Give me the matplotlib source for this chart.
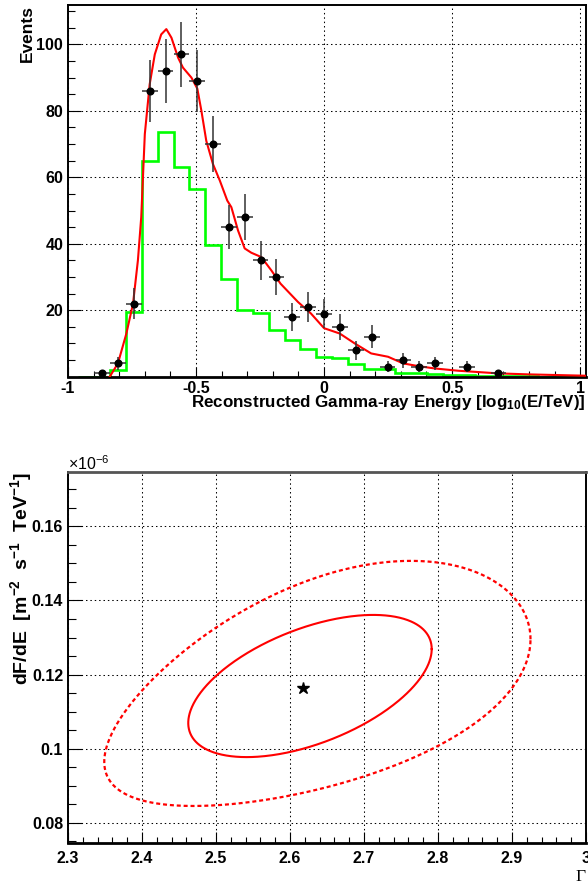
import numpy as np
import matplotlib
matplotlib.use("Agg")
import matplotlib.pyplot as plt
from matplotlib.ticker import MultipleLocator, FixedLocator, FuncFormatter

plt.rcParams['font.family'] = ['Liberation Sans', 'DejaVu Sans']
plt.rcParams['mathtext.fontset'] = 'custom'
plt.rcParams['mathtext.rm'] = 'Liberation Sans'
plt.rcParams['mathtext.bf'] = 'Liberation Sans:bold'
plt.rcParams['mathtext.it'] = 'Liberation Sans:italic'

# ---------------- energy distribution (upper panel) ----------------
bin_width = 0.0619
energy_centers = [-0.867, -0.805, -0.743, -0.681, -0.619, -0.557, -0.495, -0.433,
                  -0.371, -0.310, -0.248, -0.186, -0.124, -0.062, 0.000, 0.062,
                  0.124, 0.186, 0.248, 0.310, 0.371, 0.433, 0.557, 0.681]
event_counts = [1, 4, 22, 86, 92, 97, 89, 70,
                45, 48, 35, 30, 18, 21, 19, 15,
                8, 12, 3, 5, 3, 4, 3, 1]

# background-like histogram (same binning), first bin lower edge
hist_first_edge = -0.959
hist_counts = [0, 0, 2, 19.5, 65, 73.5, 63, 56.5, 39.5, 29.5, 20, 19.2, 14, 11, 8.3,
               5.8, 5.6, 3.8, 2.3, 2.3, 1.2, 1.2, 0.8, 0.6, 0.4, 0.3, 0.25, 0.15,
               0.1, 0.05, 0.05, 0.03]

# expected counts from the fitted model
model_logE = [-0.837, -0.805, -0.772, -0.746, -0.727, -0.714, -0.700, -0.681, -0.661,
              -0.636, -0.616, -0.596, -0.570, -0.551, -0.518, -0.495, -0.479, -0.460,
              -0.434, -0.407, -0.378, -0.362, -0.336, -0.310, -0.284, -0.245, -0.206,
              -0.170, -0.102, -0.051, 0.000, 0.061, 0.120, 0.184, 0.250, 0.309, 0.367,
              0.430, 0.523, 0.680, 0.797, 1.020]
model_events = [0, 4, 13, 22, 35, 48, 73, 88, 97,
                103, 104.6, 102, 96, 93, 90, 86.7, 80, 71,
                64, 59, 53, 51, 44, 38.6, 37.3, 36, 32,
                28, 22.5, 19, 14.6, 13, 10, 7, 6, 4, 3.2,
                2.5, 1.8, 1.0, 0.7, 0.3]

# ---------------- fit contours (lower panel), flux in 1e-6 units ----------------
best_index = 2.618
best_flux = 0.1163
# center x, center y, half-width, half-height, correlation (left side, right side)
contour_1sigma = dict(cx=2.627, cy=0.1169, a=0.1645, b=0.0192, rho_l=0.52, rho_r=0.52)
contour_2sigma = dict(cx=2.637, cy=0.1176, a=0.288, b=0.0331, rho_l=0.64, rho_r=0.36)

W, H = 588, 886
fig = plt.figure(figsize=(W / 100, H / 100), dpi=100)


def axes_px(left, top, right, bottom):
    return fig.add_axes([left / W, 1 - bottom / H, (right - left) / W, (bottom - top) / H])


def fmt(v, pos):
    return f"{v:g}"


grid_kw = dict(color='black', lw=0.75, linestyle=(0, (1.4, 2.8)))
TICK_SIZE = 11.5

# ---------- upper panel ----------
ax1 = axes_px(68, 4.5, 586, 376.7)
ax1.set_xlim(-1, 1.023)
ax1.set_ylim(0, 112)

edges = hist_first_edge + bin_width * np.arange(len(hist_counts) + 1)
ax1.stairs(hist_counts, edges, color='#00ff00', lw=1.9, zorder=2)
ax1.plot(model_logE, model_events, color='#ff0000', lw=1.5, zorder=3)
ax1.errorbar(energy_centers, event_counts, xerr=bin_width / 2,
             yerr=np.sqrt(event_counts), fmt='o', ms=4.8, mfc='black', mec='black',
             ecolor='#333333', elinewidth=1.1, capsize=0, zorder=4)

ax1.xaxis.set_major_locator(FixedLocator([-1, -0.5, 0, 0.5, 1]))
ax1.xaxis.set_minor_locator(MultipleLocator(0.1))
ax1.yaxis.set_major_locator(FixedLocator([20, 40, 60, 80, 100]))
ax1.yaxis.set_minor_locator(MultipleLocator(5))
ax1.xaxis.set_major_formatter(FuncFormatter(fmt))
ax1.yaxis.set_major_formatter(FuncFormatter(fmt))
ax1.tick_params(axis='x', which='major', direction='in', length=7.5, width=0.8, pad=3.0,
                top=False, labelsize=TICK_SIZE)
ax1.tick_params(axis='x', which='minor', direction='in', length=4, width=0.8, top=False)
ax1.tick_params(axis='y', which='major', direction='in', length=9.5, width=0.8, pad=3.5,
                right=False, labelsize=TICK_SIZE)
ax1.tick_params(axis='y', which='minor', direction='in', length=5, width=0.8, right=False)
for lab in ax1.get_xticklabels() + ax1.get_yticklabels():
    lab.set_fontweight('bold')
ax1.grid(True, which='major', **grid_kw)
for side in ['left', 'top', 'right']:
    ax1.spines[side].set_linewidth(1.4)
ax1.spines['bottom'].set_linewidth(2.0)

fig.text(27 / W, 1 - 5 / H, 'Events', rotation=90, ha='center', va='top',
         fontsize=12.5, fontweight='bold')
fig.text(586 / W, 1 - 407.3 / H, r'Reconstructed Gamma-ray Energy [log$_{\mathbf{10}}$(E/TeV)]',
         ha='right', va='baseline', fontsize=12.25, fontweight='bold')

# ---------- lower panel ----------
ax2 = axes_px(68, 472, 586, 843)
ax2.set_xlim(2.3, 3.0)
ax2.set_ylim(0.0745, 0.1747)


def contour_xy(c, n=600):
    t = np.linspace(0, 2 * np.pi, n)
    rho = 0.5 * (c['rho_l'] + c['rho_r']) + 0.5 * (c['rho_r'] - c['rho_l']) * np.cos(t)
    x = c['cx'] + c['a'] * np.cos(t)
    y = c['cy'] + c['b'] * (rho * np.cos(t) + np.sqrt(1 - rho ** 2) * np.sin(t))
    return x, y


x1, y1 = contour_xy(contour_1sigma)
x2, y2 = contour_xy(contour_2sigma)
ax2.plot(x1, y1, color='#ff0000', lw=1.5, zorder=3)
ax2.plot(x2, y2, color='#ff0000', lw=1.6, linestyle=(0, (1.8, 1.3)), zorder=3)
ax2.plot([best_index], [best_flux], marker='*', ms=9, color='black', mec='black',
         linestyle='none', zorder=4)

ax2.xaxis.set_major_locator(MultipleLocator(0.1))
ax2.xaxis.set_minor_locator(MultipleLocator(0.02))
ax2.yaxis.set_major_locator(FixedLocator([0.08, 0.10, 0.12, 0.14, 0.16]))
ax2.yaxis.set_minor_locator(MultipleLocator(0.005))
ax2.xaxis.set_major_formatter(FuncFormatter(fmt))
ax2.yaxis.set_major_formatter(FuncFormatter(fmt))
ax2.tick_params(axis='x', which='major', direction='in', length=7.7, width=0.8, pad=6,
                top=False, labelsize=TICK_SIZE)
ax2.tick_params(axis='x', which='minor', direction='in', length=4.3, width=0.8, top=False)
ax2.tick_params(axis='y', which='major', direction='in', length=10, width=0.8, pad=3.5,
                right=False, labelsize=TICK_SIZE)
ax2.tick_params(axis='y', which='minor', direction='in', length=5.5, width=0.8, right=False)
for lab in ax2.get_xticklabels() + ax2.get_yticklabels():
    lab.set_fontweight('bold')
ax2.grid(True, which='major', **grid_kw)
ax2.spines['top'].set_color('#555555')
ax2.spines['top'].set_linewidth(2.0)
ax2.spines['right'].set_linewidth(1.4)
ax2.spines['left'].set_linewidth(1.4)
ax2.spines['bottom'].set_linewidth(2.0)

fig.text(68 / W, 1 - 469.5 / H, r'$\times$10$^{-6}$', ha='left', va='baseline', fontsize=11.5)
fig.text(21 / W, 1 - 472 / H,
         r'dF/dE  [m$^{\mathbf{-2}}$  s$^{\mathbf{-1}}$  TeV$^{\mathbf{-1}}$]',
         rotation=90, ha='center', va='top', fontsize=14, fontweight='bold')
fig.text(586 / W, 1 - 880.7 / H, '\u0393', ha='right', va='baseline', fontsize=12.5,
         family=['Liberation Serif', 'DejaVu Serif'])

fig.savefig('out.png', dpi=100)
